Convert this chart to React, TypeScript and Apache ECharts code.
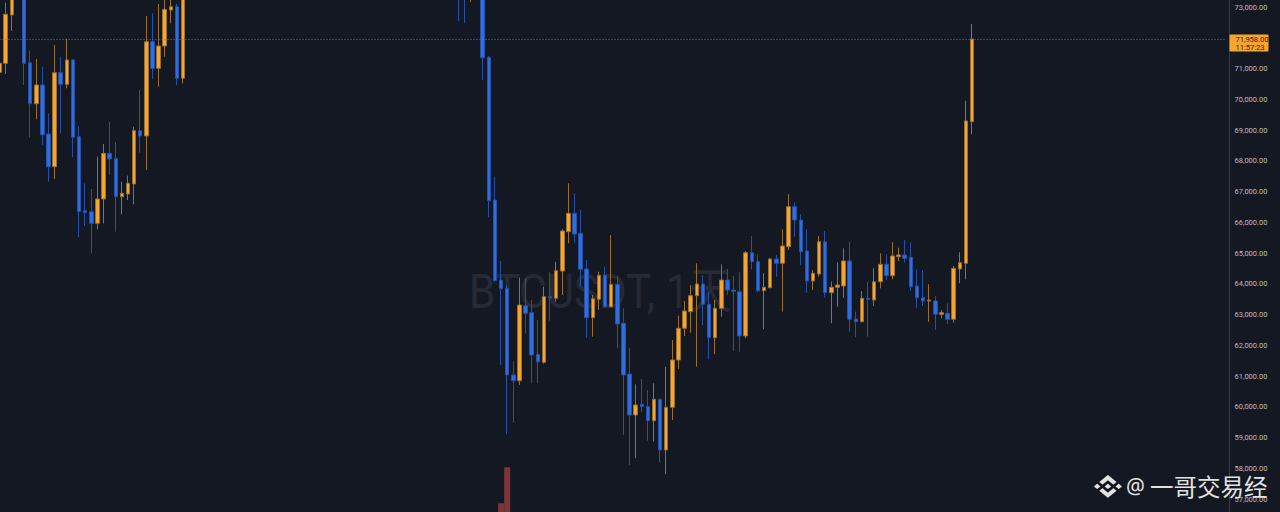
import React, { useEffect, useRef } from 'react';
import * as echarts from 'echarts';

// [open, close, low, high]
const leftCandles: number[][] = [
  [70876, 71169, 70366, 71300],
  [71169, 72763, 70821, 73140],
  [72740, 73450, 72220, 73650],
  [73450, 73800, 73350, 74100],
  [73800, 71169, 70463, 73950],
  [71189, 69855, 68763, 71579],
  [69855, 70463, 69348, 71309],
  [70463, 68847, 68512, 71059],
  [68870, 67807, 67319, 69543],
  [67807, 70863, 67407, 71764],
  [70863, 70486, 68893, 71384],
  [70486, 71276, 70356, 71959],
  [71276, 68763, 68112, 71300],
  [68782, 66343, 65511, 69130],
  [66376, 66311, 65878, 67267],
  [66343, 65966, 64990, 67081],
  [65966, 66756, 65771, 68132],
  [66756, 68242, 65966, 68545],
  [68242, 68057, 67537, 69270],
  [68067, 66831, 65693, 68600],
  [66831, 66942, 66258, 67319],
  [66919, 67267, 66724, 67514],
  [67244, 68977, 66584, 69107],
  [68977, 68805, 68262, 70301],
  [68805, 71872, 67699, 72707],
  [71872, 71007, 70659, 72795],
  [71007, 71732, 70408, 73098],
  [71732, 72925, 71384, 73300],
  [72903, 73010, 72470, 73350],
  [73010, 70681, 70463, 73098],
  [70681, 73450, 70517, 73700],
];

// candles that sit above the visible price range
const upperCandles: number[][] = [
  [73450, 74200, 73350, 74500],
  [74200, 73900, 73600, 74700],
  [73900, 74800, 73700, 75100],
  [74800, 75400, 74500, 75900],
  [75400, 75000, 74700, 75800],
  [75000, 75900, 74800, 76300],
  [75900, 76600, 75600, 77000],
  [76600, 76100, 75700, 76900],
  [76100, 75300, 74900, 76400],
  [75300, 75800, 75000, 76200],
  [75800, 76900, 75500, 77300],
  [76900, 77600, 76500, 78100],
  [77600, 77100, 76800, 77900],
  [77100, 76300, 75900, 77400],
  [76300, 76700, 76000, 77200],
  [76700, 77800, 76400, 78200],
  [77800, 78400, 77300, 78900],
  [78400, 77900, 77500, 78800],
  [77900, 77000, 76600, 78200],
  [77000, 76400, 75900, 77300],
  [76400, 76900, 76100, 77400],
  [76900, 76200, 75800, 77100],
  [76200, 75500, 75100, 76500],
  [75500, 75900, 75200, 76300],
  [75900, 76800, 75700, 77100],
  [76800, 76300, 76000, 77200],
  [76300, 75600, 75200, 76600],
  [75600, 74900, 74500, 75900],
  [74900, 75300, 74600, 75700],
  [75300, 76100, 75000, 76500],
  [76100, 75700, 75300, 76400],
  [75700, 75000, 74700, 75900],
  [75000, 74600, 74200, 75300],
  [74600, 75200, 74300, 75600],
  [75200, 75800, 74900, 76100],
  [75800, 75100, 74800, 76000],
  [75100, 74500, 74100, 75400],
  [74500, 74900, 74200, 75300],
  [74900, 75500, 74600, 75900],
  [75500, 75000, 74700, 75800],
  [75000, 74400, 74000, 75200],
  [74400, 74800, 74100, 75100],
  [74800, 74300, 73900, 75000],
  [74300, 74600, 73800, 74900],
  [74600, 73900, 72545, 74800],
  [73900, 73450, 72480, 74100],
  [73450, 73900, 73163, 74200],
  [73900, 74300, 73600, 74500],
];

const rightCandles: number[][] = [
  [74300, 71351, 70626, 74500],
  [71364, 66701, 66161, 71400],
  [66724, 64099, 64080, 67481],
  [64120, 63839, 61358, 64740],
  [63850, 61033, 59104, 63948],
  [61033, 60847, 59481, 61488],
  [60847, 63309, 60708, 64197],
  [63287, 63039, 62389, 64177],
  [63059, 61683, 60763, 63472],
  [61705, 61465, 60763, 62821],
  [61444, 63579, 61400, 63904],
  [63579, 63540, 62799, 64372],
  [63527, 64424, 63417, 64717],
  [64415, 65716, 63634, 65771],
  [65694, 66291, 65315, 67267],
  [66291, 65618, 65335, 66942],
  [65640, 64470, 63904, 66399],
  [64480, 62896, 62246, 64772],
  [62896, 63514, 62279, 63634],
  [63494, 64275, 63146, 64392],
  [64275, 63254, 63230, 64554],
  [63254, 63982, 63240, 65586],
  [63982, 62691, 61901, 64252],
  [62713, 61033, 59082, 63202],
  [61065, 59732, 58106, 61920],
  [59732, 60057, 58324, 60730],
  [60079, 60003, 59820, 60903],
  [60003, 59546, 58897, 60546],
  [59546, 60242, 58865, 60763],
  [60242, 58594, 58181, 60270],
  [58594, 59982, 57803, 61303],
  [59982, 61520, 59569, 62171],
  [61520, 62551, 61228, 62961],
  [62551, 63114, 62301, 63439],
  [63092, 63612, 62408, 63959],
  [63612, 63992, 61303, 64665],
  [63992, 63332, 62649, 64275],
  [63332, 62246, 61543, 63722],
  [62246, 63202, 61706, 63472],
  [63202, 64122, 62929, 64633],
  [64122, 63797, 63634, 64480],
  [63797, 63754, 61813, 64252],
  [63742, 62301, 61790, 64372],
  [62301, 65010, 62226, 65065],
  [65010, 64717, 64470, 65553],
  [64717, 63774, 63722, 64958],
  [63774, 63885, 62519, 64340],
  [63872, 64805, 63850, 64830],
  [64805, 64665, 64230, 64935],
  [64665, 65228, 63092, 65771],
  [65206, 66506, 65098, 66909],
  [66506, 66073, 65530, 66636],
  [66073, 65042, 64610, 66268],
  [65065, 64090, 63709, 65771],
  [64090, 64340, 63797, 64447],
  [64317, 65368, 64230, 65553],
  [65368, 63709, 63546, 65716],
  [63709, 63885, 62714, 64067],
  [63885, 63959, 63254, 64697],
  [63927, 64740, 63546, 65153],
  [64740, 62844, 62441, 65368],
  [62854, 62766, 62259, 63092],
  [62766, 63527, 62740, 63764],
  [63527, 63494, 62279, 64067],
  [63472, 64067, 63276, 64502],
  [64067, 64633, 63852, 64990],
  [64633, 64262, 64122, 64958],
  [64262, 64903, 64144, 65348],
  [64880, 64935, 64740, 65172],
  [64935, 64828, 64684, 65423],
  [64860, 63904, 63774, 65348],
  [63927, 63546, 63202, 64470],
  [63546, 63439, 63276, 64447],
  [63439, 63472, 62766, 63982],
  [63439, 63007, 62496, 63602],
  [63007, 63059, 62876, 63146],
  [63037, 62844, 62691, 63364],
  [62844, 64502, 62733, 64577],
  [64480, 64685, 64015, 65023],
  [64665, 69293, 64144, 69953],
  [69270, 71958, 68860, 72447],
];

const volumeIndex = [82, 83];
const volumeValues = [8.7, 44.7];

const priceTicks = [
  57000, 58000, 59000, 60000, 61000, 62000, 63000, 64000, 65000,
  66000, 67000, 68000, 69000, 70000, 71000, 72000, 73000,
];

const symbolText = 'BTCUSDT, 1天';
const authorText = '一哥交易经';
const countdownText = '11:57:23';

const candles = [...leftCandles, ...upperCandles, ...rightCandles];

// layout
const SLOTS = 201;
const SLOT_W = 6.116;
const GRID_LEFT = -3.48;
const GRID_W = SLOTS * SLOT_W;
const GRID_TOP = -23.75;
const GRID_H = 553.5;
const AXIS_X = 1229.5;

const UP = '#f7a530';
const DOWN = '#2e6ee2';
const UP_WICK = '#9a7031';
const DOWN_WICK = '#2550a6';
const BG = '#141822';

const binanceD =
  'M38.73 53.2l24.59-24.58 24.6 24.6 14.3-14.31L63.32 0 24.42 38.9l14.31 14.3z' +
  'M0 63.31l14.3-14.31 14.31 14.31-14.31 14.3z' +
  'M38.73 73.41l24.59 24.59 24.6-24.6 14.31 14.29-38.9 38.91-38.91-38.88-.02-.02 14.33-14.29z' +
  'M98 63.31l14.3-14.31 14.31 14.3-14.31 14.32z' +
  'M77.83 63.3L63.32 48.78 52.59 59.51l-1.24 1.23-2.54 2.54-.02.02.02.03 14.51 14.5 14.51-14.52.01-.01-.01-.01z';

let registered = false;
function ensureShape() {
  if (registered) return;
  echarts.graphic.registerShape('binanceLogo', echarts.graphic.extendPath(binanceD, {}) as any);
  registered = true;
}

const fmt = (v: number) =>
  v.toLocaleString('en-US', { minimumFractionDigits: 2, maximumFractionDigits: 2 });

export default function App() {
  const ref = useRef<HTMLDivElement>(null);

  useEffect(() => {
    ensureShape();
    const chart = echarts.init(ref.current!, null, { renderer: 'svg', width: 1280, height: 512 });
    const categories = Array.from({ length: SLOTS }, (_, i) => String(i));
    const volumeData: (number | null)[] = candles.map(() => null);
    volumeIndex.forEach((idx, k) => {
      volumeData[idx] = volumeValues[k];
    });
    const lastIdx = candles.length - 1;
    const lastClose = candles[lastIdx][1];

    chart.setOption({
      animation: false,
      backgroundColor: BG,
      grid: [
        { left: GRID_LEFT, top: GRID_TOP, width: GRID_W, height: GRID_H, containLabel: false, outerBoundsMode: 'none' },
        { left: GRID_LEFT, top: 412, width: GRID_W, height: 100, containLabel: false, outerBoundsMode: 'none' },
      ],
      xAxis: [
        { type: 'category', gridIndex: 0, data: categories, show: false, boundaryGap: true },
        { type: 'category', gridIndex: 1, data: categories, show: false, boundaryGap: true },
      ],
      yAxis: [
        {
          type: 'value',
          gridIndex: 0,
          position: 'right',
          offset: AXIS_X - (GRID_LEFT + GRID_W),
          min: 56000,
          max: 74000,
          interval: 1000,
          axisLine: { show: true, lineStyle: { color: '#363a45', width: 1 } },
          axisTick: { show: false },
          splitLine: { show: false },
          axisLabel: {
            margin: 5,
            color: '#bcbfc6',
            fontSize: 7.5,
            fontFamily: 'Roboto',
            formatter: (v: number) => (priceTicks.includes(v) ? fmt(v) : ''),
          },
        },
        { type: 'value', gridIndex: 1, min: 0, max: 100, show: false, splitLine: { show: false } },
      ],
      series: [
        {
          type: 'bar',
          xAxisIndex: 1,
          yAxisIndex: 1,
          data: volumeData,
          barWidth: 6,
          silent: true,
          itemStyle: { color: '#7c3536' },
        },
        {
          type: 'candlestick',
          xAxisIndex: 0,
          yAxisIndex: 0,
          data: candles,
          barWidth: 4,
          silent: true,
          itemStyle: {
            color: UP,
            color0: DOWN,
            borderColor: UP_WICK,
            borderColor0: DOWN_WICK,
            borderWidth: 1,
          },
          markLine: {
            silent: true,
            symbol: ['none', 'none'],
            animation: false,
            label: { show: false },
            lineStyle: { color: '#a57a34', type: [1, 2], width: 1, opacity: 0.85 },
            data: [{ yAxis: lastClose }],
          },
        },
      ],
    });

    const pt = chart.convertToPixel({ gridIndex: 0 }, [lastIdx, lastClose]) as number[];
    const py = pt[1];

    chart.setOption({
      graphic: {
        elements: [
          {
            type: 'text',
            z: 0,
            x: 469,
            y: 291,
            scaleX: 0.86,
            silent: true,
            style: {
              text: symbolText,
              fontFamily: 'Roboto, "Noto Sans CJK SC"',
              fontSize: 49,
              fill: '#262a35',
              verticalAlign: 'middle',
              align: 'left',
            },
          },
          {
            type: 'group',
            z: 100,
            silent: true,
            children: [
              {
                type: 'rect',
                shape: { x: AXIS_X, y: py - 4.5, width: 39, height: 17, r: 1 },
                style: { fill: UP },
                z: 100,
              },
              {
                type: 'text',
                z: 101,
                x: AXIS_X + 6,
                y: py,
                style: { text: fmt(lastClose), fontSize: 7.5, fontFamily: 'Roboto', fill: '#2a2218', verticalAlign: 'middle' },
              },
              {
                type: 'text',
                z: 101,
                x: AXIS_X + 6,
                y: py + 8,
                style: { text: countdownText, fontSize: 7.5, fontFamily: 'Roboto', fill: '#2a2218', verticalAlign: 'middle' },
              },
            ],
          },
          {
            type: 'binanceLogo',
            z: 100,
            silent: true,
            x: 1094,
            y: 475,
            scaleX: 0.22,
            scaleY: 0.18,
            style: { fill: '#e2e2e2', shadowColor: 'rgba(0,0,0,0.7)', shadowBlur: 3 },
          },
          {
            type: 'text',
            z: 100,
            silent: true,
            x: 1126,
            y: 486,
            style: {
              text: '@',
              fontFamily: '"Noto Sans"',
              fontSize: 21,
              fill: '#e2e2e2',
              verticalAlign: 'middle',
              shadowColor: 'rgba(0,0,0,0.7)',
              shadowBlur: 3,
            },
          },
          {
            type: 'text',
            z: 100,
            silent: true,
            x: 1150,
            y: 486,
            style: {
              text: authorText,
              fontFamily: '"Noto Sans CJK SC"',
              fontSize: 23.5,
              fill: '#e2e2e2',
              verticalAlign: 'middle',
              shadowColor: 'rgba(0,0,0,0.7)',
              shadowBlur: 3,
            },
          },
        ],
      },
    });

    return () => chart.dispose();
  }, []);

  return (
    <div
      ref={ref}
      style={{ position: 'fixed', left: 0, top: 0, width: 1280, height: 512, background: BG }}
    />
  );
}
